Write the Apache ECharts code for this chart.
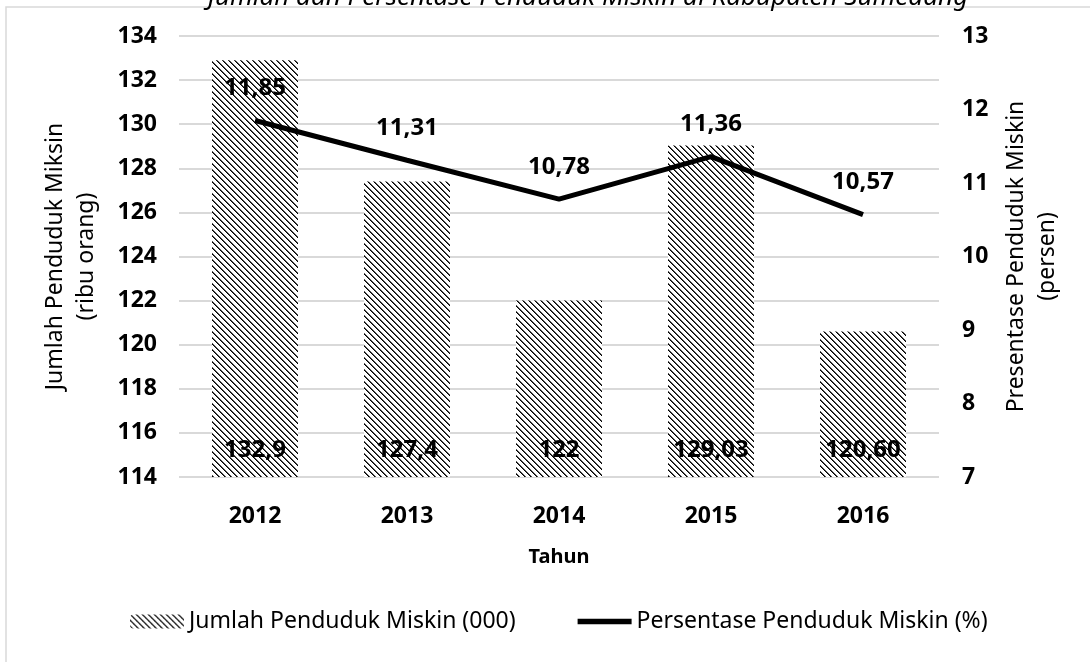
<!DOCTYPE html>
<html>
<head>
    <meta charset="UTF-8">
    <title>Penduduk Miskin</title>
    <script src="https://cdn.jsdelivr.net/npm/echarts@6/dist/echarts.min.js"></script>
    <style>
        html, body {
            margin: 0;
            padding: 0;
            background: #fff;
        }

        #chart {
            width: 1090px;
            height: 662px;
        }
    </style>
</head>
<body>
<div id="chart"></div>
<script>
    var years = ['2012', '2013', '2014', '2015', '2016'];
    var jumlah = [132.9, 127.4, 122, 129.03, 120.60];
    var jumlahLabels = ['132,9', '127,4', '122', '129,03', '120,60'];
    var persen = [11.85, 11.31, 10.78, 11.36, 10.57];
    var persenLabels = ['11,85', '11,31', '10,78', '11,36', '10,57'];

    var FONT = '"Noto Sans", "Open Sans", sans-serif';
    var BAR_NAME = 'Jumlah Penduduk Miskin (000)';
    var LINE_NAME = 'Persentase Penduduk Miskin (%)';

    // hatch fill like the excel pattern (backslash lines)
    var hatch = document.createElement('canvas');
    hatch.width = 6;
    hatch.height = 6;
    var ctx = hatch.getContext('2d');
    ctx.fillStyle = '#fff';
    ctx.fillRect(0, 0, 6, 6);
    for (var i = 0; i < 6; i++) {
        ctx.fillStyle = '#000';
        ctx.fillRect(i, i, 1, 1);
        ctx.fillStyle = '#555';
        ctx.fillRect((i + 1) % 6, i, 1, 1);
    }

    var chart = echarts.init(document.getElementById('chart'));
    chart.setOption({
        animation: false,
        textStyle: {fontFamily: FONT},
        grid: {left: 179, right: 151, top: 36, bottom: 185},
        graphic: [
            {
                type: 'rect',
                shape: {x: 6, y: 7, width: 1100, height: 700},
                style: {fill: 'none', stroke: '#d9d9d9', lineWidth: 1.5},
                silent: true
            },
            {
                type: 'text',
                x: 588,
                y: 11,
                style: {
                    text: 'Jumlah dan Persentase Penduduk Miskin di Kabupaten Sumedang',
                    font: 'italic 26px ' + FONT,
                    fill: '#000',
                    align: 'center',
                    verticalAlign: 'bottom'
                },
                silent: true
            }
        ],
        legend: {
            bottom: 24,
            left: 125,
            itemWidth: 54,
            itemHeight: 14,
            itemGap: 62,
            textStyle: {fontSize: 23, color: '#000', fontFamily: FONT},
            data: [
                BAR_NAME,
                {name: LINE_NAME, icon: 'path://M0,0H60V6H0Z'}
            ]
        },
        xAxis: {
            type: 'category',
            data: years,
            name: 'Tahun',
            nameLocation: 'middle',
            nameGap: 70,
            nameTextStyle: {fontSize: 20, fontWeight: 'bold', color: '#000'},
            axisLine: {show: false},
            axisTick: {show: false},
            axisLabel: {fontSize: 23, fontWeight: 'bold', color: '#000', margin: 28}
        },
        yAxis: [
            {
                type: 'value',
                min: 114,
                max: 134,
                interval: 2,
                name: 'Jumlah Penduduk Miksin\n(ribu orang)',
                nameLocation: 'middle',
                nameGap: 77,
                nameTextStyle: {fontSize: 23, color: '#000', lineHeight: 31},
                axisLabel: {fontSize: 23, fontWeight: 'bold', color: '#000', margin: 22},
                splitLine: {lineStyle: {color: '#d9d9d9', width: 2}}
            },
            {
                type: 'value',
                min: 7,
                max: 13,
                interval: 1,
                name: 'Presentase Penduduk Miskin\n(persen)',
                nameLocation: 'middle',
                nameGap: 62,
                nameRotate: 90,
                nameTextStyle: {fontSize: 23, color: '#000', lineHeight: 31},
                axisLabel: {fontSize: 23, fontWeight: 'bold', color: '#000', margin: 23},
                splitLine: {show: false}
            }
        ],
        series: [
            {
                name: BAR_NAME,
                type: 'bar',
                data: jumlah,
                barWidth: 86,
                itemStyle: {color: {image: hatch, repeat: 'repeat'}},
                label: {
                    show: true,
                    position: 'insideBottom',
                    distance: 15,
                    fontSize: 24,
                    fontWeight: 'bold',
                    color: '#000',
                    formatter: function (p) {
                        return jumlahLabels[p.dataIndex];
                    }
                }
            },
            {
                name: LINE_NAME,
                type: 'line',
                yAxisIndex: 1,
                data: persen,
                symbol: 'none',
                lineStyle: {color: '#000', width: 5},
                itemStyle: {color: '#000'}
            },
            {
                // invisible points carrying the line labels
                name: 'label persen',
                type: 'scatter',
                yAxisIndex: 1,
                data: persen,
                symbolSize: 1,
                itemStyle: {color: 'rgba(0,0,0,0)', opacity: 1},
                label: {
                    show: true,
                    position: 'top',
                    distance: 20,
                    fontSize: 24,
                    fontWeight: 'bold',
                    color: '#000',
                    formatter: function (p) {
                        return persenLabels[p.dataIndex];
                    }
                }
            }
        ]
    });
</script>
</body>
</html>
